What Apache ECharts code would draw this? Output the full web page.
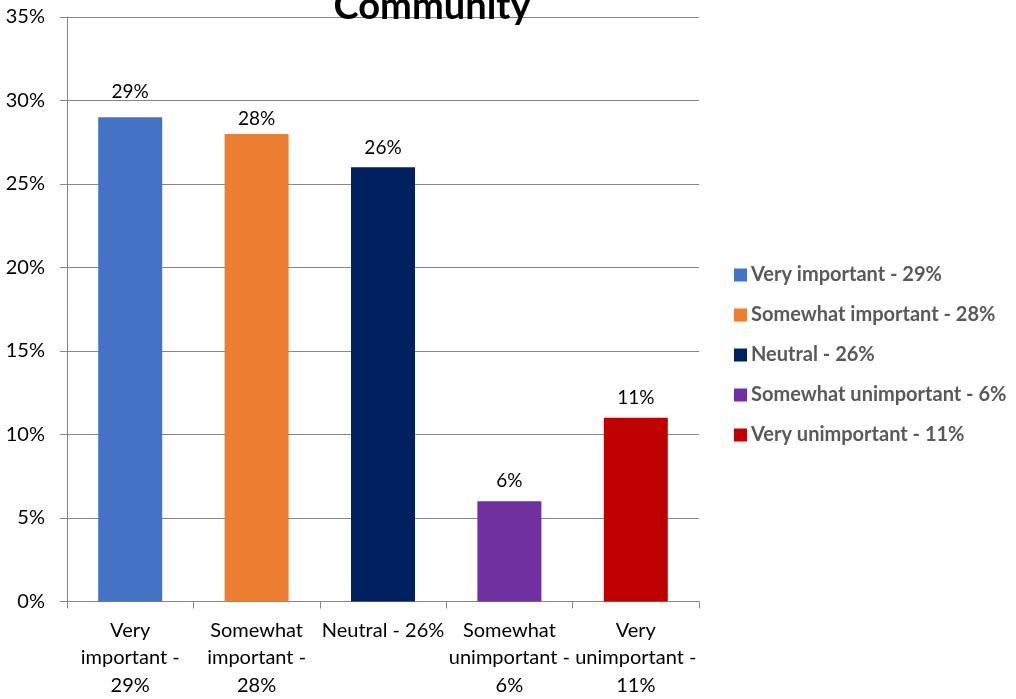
<!DOCTYPE html>
<html>
<head>
<meta charset="utf-8">
<script src="https://cdn.jsdelivr.net/npm/echarts@6/dist/echarts.min.js"></script>
<style>
  html, body { margin: 0; padding: 0; background: #fff; }
  #chart { width: 1016px; height: 699px; }
</style>
</head>
<body>
<div id="chart"></div>
<script>
// Survey responses: importance of community
const categories = ['Very important - 29%', 'Somewhat important - 28%', 'Neutral - 26%', 'Somewhat unimportant - 6%', 'Very unimportant - 11%'];
const tickLabels = ['Very\nimportant -\n29%', 'Somewhat\nimportant -\n28%', 'Neutral - 26%', 'Somewhat\nunimportant -\n6%', 'Very\nunimportant -\n11%'];
const values = [29, 28, 26, 6, 11];
const colors = ['#4472C4', '#ED7D31', '#002060', '#7030A0', '#C00000'];
const yTicks = [0, 5, 10, 15, 20, 25, 30, 35];

const FONT = 'Lato, "Open Sans", sans-serif';
// gap between each bar top and its value label
const labelGaps = [16, 6, 10, 11, 10];

// One series per category so each gets its own legend entry; stacking keeps every bar centred in its slot.
const series = categories.map((name, i) => ({
  name: name,
  type: 'bar',
  stack: 'all',
  barWidth: 64,
  itemStyle: { color: colors[i] },
  data: values.map((v, j) => (j === i ? v : '-')),
  label: {
    show: true,
    position: 'top',
    distance: labelGaps[i],
    formatter: '{c}%',
    fontFamily: FONT,
    fontSize: 19,
    color: '#000'
  }
}));

const chart = echarts.init(document.getElementById('chart'), null, { renderer: 'canvas' });
chart.setOption({
  animation: false,
  title: {
    text: 'Community',
    left: 427,
    textAlign: 'center',
    top: -17,
    textStyle: { fontFamily: FONT, fontSize: 38, fontWeight: 'bold', color: '#000' }
  },
  legend: {
    orient: 'vertical',
    left: 729,
    top: 260,
    itemWidth: 13,
    itemHeight: 13,
    itemGap: 20,
    icon: 'rect',
    textStyle: { fontFamily: FONT, fontSize: 20, fontWeight: 'bold', color: '#595959', padding: [0, 0, 0, -1] },
    data: categories
  },
  grid: { left: 67, right: 317, top: 17, bottom: 95, containLabel: false },
  xAxis: {
    type: 'category',
    data: tickLabels,
    boundaryGap: true,
    axisLine: { show: true, lineStyle: { color: '#868686', width: 1 } },
    axisTick: { show: true, length: 7, alignWithLabel: false, lineStyle: { color: '#868686' } },
    axisLabel: {
      interval: 0,
      margin: 15,
      fontFamily: FONT,
      fontSize: 20,
      lineHeight: 27.5,
      color: '#000'
    }
  },
  yAxis: {
    type: 'value',
    min: 0,
    max: 35,
    interval: 5,
    axisLine: { show: true, lineStyle: { color: '#868686', width: 1 } },
    axisTick: { show: true, length: 7, lineStyle: { color: '#868686' } },
    splitLine: { show: true, lineStyle: { color: '#868686', width: 1 } },
    axisLabel: {
      margin: 22,
      fontFamily: FONT,
      fontSize: 20,
      color: '#000',
      formatter: v => (yTicks.includes(v) ? v + '%' : '')
    }
  },
  series: series
});
</script>
</body>
</html>
